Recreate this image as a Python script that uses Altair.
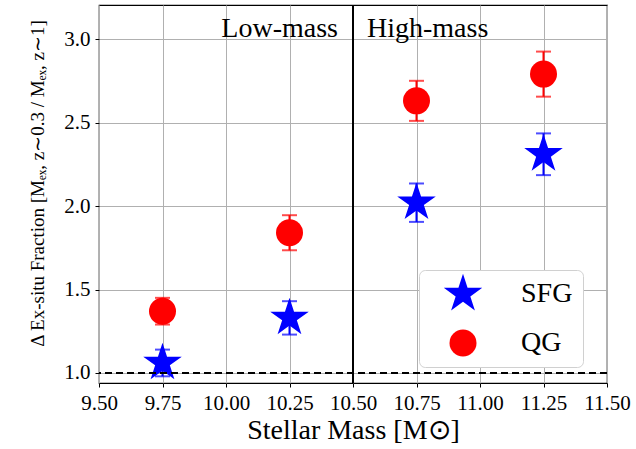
import altair as alt
import pandas as pd

# ---- data ----
masses = [9.75, 10.25, 10.75, 11.25]
sfg_vals = [1.06, 1.33, 2.02, 2.31]
sfg_errs = [0.08, 0.10, 0.115, 0.125]
qg_vals = [1.37, 1.84, 2.63, 2.79]
qg_errs = [0.08, 0.105, 0.12, 0.135]
groups = ["SFG", "QG"]
group_colors = ["#0000ff", "#ff0000"]
x_ticks = [9.5, 9.75, 10.0, 10.25, 10.5, 10.75, 11.0, 11.25, 11.5]
y_ticks = [1.0, 1.5, 2.0, 2.5, 3.0]
divider_mass = [10.5]
baseline_ratio = [1.0]
region_labels = ["Low-mass", "High-mass"]
region_label_y = [3.01]

# five-point star, drawn larger than the unit circle so both share one symbol size
STAR = ("M0,-1.5L0.3368,-0.4635L1.4265,-0.4635L0.5445,0.177L0.882,1.2135L0,0.573"
        "L-0.882,1.2135L-0.5445,0.177L-1.4265,-0.4635L-0.3368,-0.4635Z")
FONT = "Liberation Serif"

rows = []
for g, vals, errs in [("SFG", sfg_vals, sfg_errs), ("QG", qg_vals, qg_errs)]:
    for m, v, e in zip(masses, vals, errs):
        rows.append({"mass": m, "val": v, "lo": v - e, "hi": v + e, "group": g})
df = pd.DataFrame(rows)

xscale = alt.Scale(domain=[9.5, 11.5], nice=False, zero=False)
yscale = alt.Scale(domain=[0.94, 3.204], nice=False, zero=False)

x_axis = alt.Axis(values=x_ticks, format=".2f", title="Stellar Mass [M⊙]",
                  titleFontSize=28, titlePadding=3, labelPadding=5,
                  labelOverlap=False, labelFlush=False)
y_axis = alt.Axis(values=y_ticks, format=".1f",
                  title="Δ Ex-situ Fraction [Mₑₓ, z∼0.3 / Mₑₓ, z∼1]",
                  titleFontSize=19, titlePadding=16, labelPadding=5, titleY=178,
                  labelOverlap=False, labelFlush=False)

X = alt.X("mass:Q", scale=xscale, axis=x_axis)
cscale = alt.Scale(domain=groups, range=group_colors)

divider = alt.Chart(pd.DataFrame({"mass": divider_mass})).mark_rule(
    color="black", strokeWidth=2
).encode(x=X)

baseline = alt.Chart(pd.DataFrame({"val": baseline_ratio})).mark_rule(
    color="black", strokeWidth=2, strokeDash=[7, 4]
).encode(y=alt.Y("val:Q", scale=yscale, axis=y_axis))


def error_layers(group, color):
    base = alt.Chart(df).transform_filter(alt.datum.group == group)
    bar = base.mark_rule(strokeWidth=2, color=color).encode(
        x=X, y=alt.Y("lo:Q", scale=yscale, axis=y_axis), y2="hi:Q"
    )
    lo = base.mark_tick(orient="horizontal", size=15, thickness=2, color=color).encode(
        x=X, y=alt.Y("lo:Q", scale=yscale, axis=y_axis)
    )
    hi = base.mark_tick(orient="horizontal", size=15, thickness=2, color=color).encode(
        x=X, y=alt.Y("hi:Q", scale=yscale, axis=y_axis)
    )
    return [bar, lo, hi]


err = error_layers(groups[0], group_colors[0]) + error_layers(groups[1], group_colors[1])

legend = alt.Legend(
    title=None, orient="none", legendX=320, legendY=265,
    labelFont=FONT, labelFontSize=28, labelColor="black",
    padding=10, symbolOffset=20, labelOffset=44, rowPadding=18,
    symbolSize=729, symbolStrokeWidth=0, symbolOpacity=1,
    strokeColor="#d0d0d0", cornerRadius=6, fillColor="white",
)

points = alt.Chart(df).mark_point(filled=True, opacity=1, strokeWidth=0, size=729).encode(
    x=X,
    y=alt.Y("val:Q", scale=yscale, axis=y_axis),
    color=alt.Color("group:N", scale=cscale, legend=legend),
    shape=alt.Shape("group:N", scale=alt.Scale(domain=groups, range=[STAR, "circle"]), legend=legend),
)

lab_df = pd.DataFrame({"mass": divider_mass * 2, "val": region_label_y * 2, "label": region_labels})
low_text = alt.Chart(lab_df).transform_filter(alt.datum.label == region_labels[0]).mark_text(
    align="right", baseline="alphabetic", dx=-15, font=FONT, fontSize=28, color="black"
).encode(x=X, y=alt.Y("val:Q", scale=yscale, axis=y_axis), text="label:N")
high_text = alt.Chart(lab_df).transform_filter(alt.datum.label == region_labels[1]).mark_text(
    align="left", baseline="alphabetic", dx=14, font=FONT, fontSize=28, color="black"
).encode(x=X, y=alt.Y("val:Q", scale=yscale, axis=y_axis), text="label:N")

chart = alt.layer(
    divider, *err, points, baseline, low_text, high_text
).properties(
    width=508, height=378,
    autosize=alt.AutoSizeParams(type="none"),
    padding={"left": 99, "top": 5, "right": 29, "bottom": 66},
    background="white",
).configure_view(
    stroke="black", strokeWidth=1.2
).configure_axis(
    domain=False,
    grid=True, gridColor="#b0b0b0", gridWidth=1,
    ticks=True, tickColor="black", tickSize=4, tickWidth=1,
    labelFont=FONT, labelFontSize=21, labelColor="black",
    titleFont=FONT, titleColor="black", titleFontWeight="normal",
)

chart.save("out.html", embed_options={"renderer": "svg", "actions": False})
